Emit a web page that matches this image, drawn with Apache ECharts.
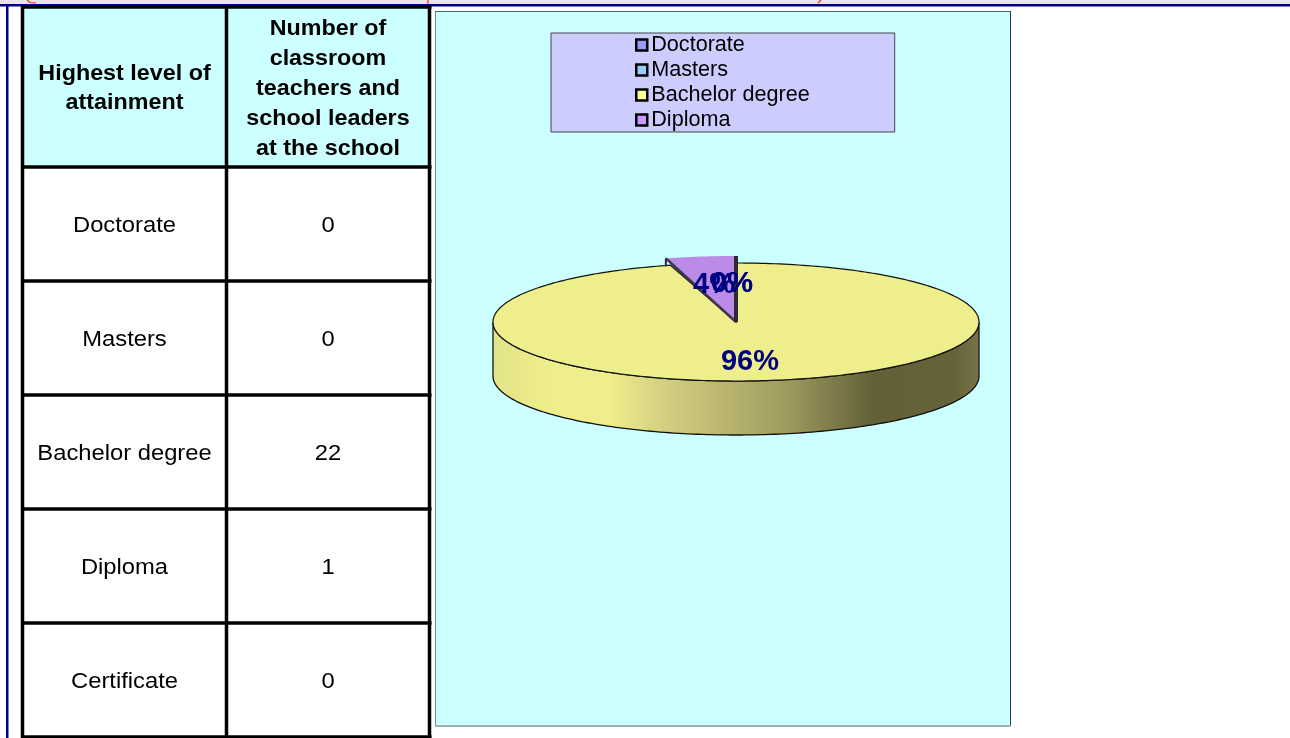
<!DOCTYPE html>
<html><head><meta charset="utf-8">
<style>html,body{margin:0;padding:0;background:#fff}#c{width:1290px;height:738px}</style>
<script src="https://cdn.jsdelivr.net/npm/echarts@6/dist/echarts.min.js"></script>
</head><body><div id="c"></div>
<script>
const levels = ['Doctorate','Masters','Bachelor degree','Diploma','Certificate'];
const counts = [0,0,22,1,0];
const legendNames = ['Doctorate','Masters','Bachelor degree','Diploma'];
const legendColors = ['#9999FF','#99CCFF','#FFFF99','#CC99FF'];
const faceColors = ['#8C8CE8','#8CBBE8','#EEEE8C','#BB8BE8'];
const headers = [['Highest level of','attainment'],['Number of','classroom','teachers and','school leaders','at the school']];

const FONT = '"Liberation Sans", Arial, sans-serif';
const total = counts.reduce((a,b)=>a+b,0);
const cx = 736, cy = 322, rx = 243, ry = 59, depth = 54;

function ellipsePts(a0, a1, rX, rY, ox, oy){
  const pts = [], n = Math.max(2, Math.ceil(Math.abs(a1-a0)/0.02));
  for(let i=0;i<=n;i++){const a=a0+(a1-a0)*i/n;pts.push([ox+rX*Math.sin(a),oy-rY*Math.cos(a)]);}
  return pts;
}
function makeRender(idx){
  return function(params, api){
    const share = api.value(0)/total;
    const before = api.value(1)/total;
    const raised = idx === 3;
    const a0 = before*2*Math.PI, a1 = (before+share)*2*Math.PI;
    const kids = [];
    if(share > 0){
      if(!raised){
        const pf = ellipsePts(Math.PI/2, 3*Math.PI/2, rx, ry, cx, cy);
        const wall = pf.concat(pf.slice().reverse().map(p=>[p[0],p[1]+depth]));
        kids.push({type:'polygon',shape:{points:wall},style:{
          fill:new echarts.graphic.LinearGradient(0,0,1,0,[
            {offset:0,color:'#E2E288'},{offset:0.11,color:'#EEEE8C'},{offset:0.24,color:'#EEEE8C'},{offset:0.34,color:'#D6D282'},
            {offset:0.6,color:'#A09C60'},{offset:0.78,color:'#636038'},{offset:0.95,color:'#66633A'},{offset:1,color:'#77744A'}]),
          stroke:'#111',lineWidth:1.3}});
      }
      const pr = raised ? 260 : rx, pry = raised ? 66 : ry;
      const arc = ellipsePts(a0,a1,pr,pry,cx,cy);
      const poly = [[cx,cy]].concat(arc);
      if(raised){
        const e0 = arc[0], e1 = arc[arc.length-1];
        kids.push({type:'polygon',shape:{points:poly},style:{fill:faceColors[idx]}});
        kids.push({type:'polyline',shape:{points:[[cx,cy],e0]},style:{fill:null,stroke:'#40344f',lineWidth:2.5}});
        kids.push({type:'polyline',shape:{points:[[e0[0],e0[1]],[e0[0],e0[1]+8]]},style:{fill:null,stroke:'#2a2a30',lineWidth:2}});
        kids.push({type:'polyline',shape:{points:[[cx,cy],[e1[0],e1[1]]]},style:{fill:null,stroke:'#2a2a30',lineWidth:4}});
      } else {
        kids.push({type:'polygon',shape:{points:poly},style:{fill:faceColors[idx],stroke:'#111',lineWidth:1.2}});
      }
    }
    return {type:'group',children:kids};
  };
}
function labelRender(idx){
  return function(params, api){
    const share = api.value(0)/total, before = api.value(1)/total;
    const mid = (before+share/2)*2*Math.PI;
    const fx = idx===3 ? 0.665 : 0.42, fy = 0.62;
    const dx = share===0 ? -4 : 0;
    return {type:'text',z2:50,
      x:cx+dx+rx*fx*Math.sin(mid), y:cy-ry*fy*Math.cos(mid)+ (share>0.5?4:-1),
      style:{x:0,y:0,
      text:Math.round(share*100)+'%',fill:'#000080',
      font:'bold 29px '+FONT,textAlign:'center',textVerticalAlign:'middle'}};
  };
}

const g = [];
const rect=(x,y,w,h,fill,z)=>g.push({type:'rect',z:z||0,shape:{x,y,width:w,height:h},style:{fill}});
const txt=(s,x,y,font,sx)=>g.push({type:'text',z:3,x,y,scaleX:sx,style:{x:0,y:0,text:s,fill:'#000',font,textAlign:'center',textVerticalAlign:'middle'}});
rect(0,0,1290,4,'#E8E4E8');
rect(0,4,1290,2.5,'#000080');
rect(6,4,2.5,734,'#000080');
[[[27,0],[30,2.5],[36,3]],[[428,0],[428,4]],[[818,3],[821,0]]].forEach(p=>
  g.push({type:'polyline',z:1,shape:{points:p},style:{fill:null,stroke:'#FF2020',lineWidth:1.2}}));
rect(435,11,576,715,'#CCFFFF');
rect(435,11,1,715,'#6f9090');
rect(435,11,576,1,'#3f6a6a');
rect(1010,11,1,715,'#234040');
rect(435,725,576,2,'#a0b0b0');
const rows=[7,167,281,395,509,623,737], colX=[22.5,226.5,429.5];
rect(colX[0],rows[0],colX[2]-colX[0],rows[1]-rows[0],'#CCFFFF');
rows.forEach(y=>rect(21,y-1.75,410.5,3.5,'#000',2));
colX.forEach(x=>rect(x-1.75,6,3.5,732,'#000',2));
headers[0].forEach((s,i)=>txt(s,124.5,74+i*29,'bold 22px '+FONT,1.06));
headers[1].forEach((s,i)=>txt(s,328,29+i*30,'bold 22px '+FONT,1.06));
levels.forEach((s,i)=>{
  const y=(rows[i+1]+rows[i+2])/2+2;
  txt(s,124.5,y,'22px '+FONT,1.08);
  txt(String(counts[i]),328,y,'22px '+FONT,1.08);
});

const series=[];
const cum=[0,0,0,22];
[2,3,0,1].forEach(i=>{
  series.push({type:'custom',name:legendNames[i],coordinateSystem:'none',silent:true,z:5+i,
    data:[[counts[i],cum[i]]],renderItem:makeRender(i),itemStyle:{color:faceColors[i]}});
});
[3,0,1,2].forEach(i=>{
  series.push({type:'custom',name:legendNames[i]+' label',coordinateSystem:'none',silent:true,z:20+i,
    data:[[counts[i],cum[i]]],renderItem:labelRender(i)});
});

const chart=echarts.init(document.getElementById('c'),null,{width:1290,height:738});
chart.setOption({
  animation:false,
  graphic:g,
  legend:{
    orient:'vertical',left:551,top:33,
    padding:[1,85,1,84],
    itemWidth:11,itemHeight:11,itemGap:3,
    backgroundColor:'#CCCCFF',borderColor:'#444',borderWidth:1,
    selectedMode:false,
    textStyle:{fontFamily:FONT,fontSize:21.6,color:'#000',padding:[0,0,0,-1],lineHeight:20},
    data:legendNames.map((n,i)=>({name:n,icon:'rect',itemStyle:{color:legendColors[i],borderColor:'#000',borderWidth:2.5}}))
  },
  series
});
</script></body></html>
